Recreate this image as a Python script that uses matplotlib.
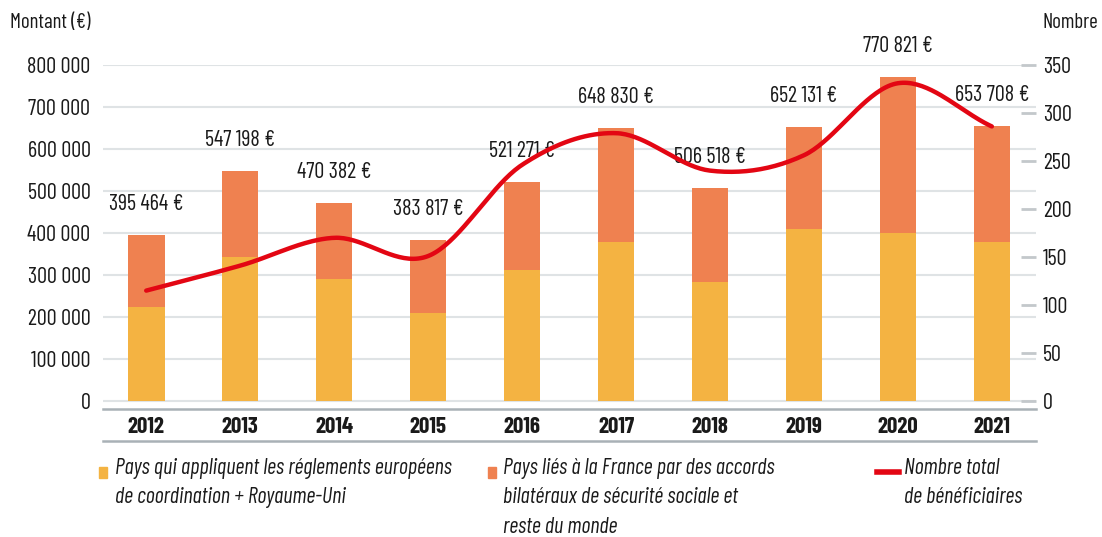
import numpy as np
import matplotlib
matplotlib.use("Agg")
import matplotlib.pyplot as plt
from matplotlib.patches import Rectangle
from matplotlib.lines import Line2D

plt.rcParams['font.family'] = ['Barlow Condensed', 'Roboto Condensed', 'DejaVu Sans']

years = ['2012', '2013', '2014', '2015', '2016', '2017', '2018', '2019', '2020', '2021']
totals = [395464, 547198, 470382, 383817, 521271, 648830, 506518, 652131, 770821, 653708]
eu_part = [225000, 343000, 290000, 210000, 312000, 379000, 283000, 410000, 400000, 379000]
beneficiaires = [115, 141, 170, 151, 246, 279, 240, 256, 331, 286]

total_labels = ['395 464 €', '547 198 €', '470 382 €', '383 817 €', '521 271 €',
                '648 830 €', '506 518 €', '652 131 €', '770 821 €', '653 708 €']

YELLOW = '#F4B342'
ORANGE = '#EF8150'
RED = '#E30613'
GRID = '#dfe3e5'
AXIS = '#a9b1b6'
INK = '#1a1a1a'


def catmull_rom(xs, ys, n=40):
    # smooth line like the office "smoothed line" option
    xs = np.asarray(xs, float)
    ys = np.asarray(ys, float)
    out_x, out_y = [], []
    for i in range(len(xs) - 1):
        i0 = max(i - 1, 0)
        i3 = min(i + 2, len(xs) - 1)
        t = np.linspace(0, 1, n)
        m1 = (ys[i + 1] - ys[i0]) / (xs[i + 1] - xs[i0])
        m2 = (ys[i3] - ys[i]) / (xs[i3] - xs[i])
        h = xs[i + 1] - xs[i]
        h00 = 2 * t**3 - 3 * t**2 + 1
        h10 = t**3 - 2 * t**2 + t
        h01 = -2 * t**3 + 3 * t**2
        h11 = t**3 - t**2
        out_x.append(xs[i] + t * h)
        out_y.append(h00 * ys[i] + h10 * h * m1 + h01 * ys[i + 1] + h11 * h * m2)
    return np.concatenate(out_x), np.concatenate(out_y)


x = np.arange(len(years))
other_part = [t - e for t, e in zip(totals, eu_part)]

fig = plt.figure(figsize=(11.02, 5.37), dpi=100)
ax = fig.add_axes([103 / 1102, 128 / 537, 933 / 1102, 344 / 537])

ymin, ymax = -19000, 800000
ax.set_ylim(ymin, ymax)
ax.set_xlim(-0.46, 9.47)

ax.bar(x, eu_part, width=0.39, color=YELLOW, zorder=2)
ax.bar(x, other_part, bottom=eu_part, width=0.39, color=ORANGE, zorder=2)

for xi, t, lab in zip(x, totals, total_labels):
    ax.annotate(lab, (xi, t), xytext=(0, 22), textcoords='offset points',
                ha='center', va='center', fontsize=16, color=INK)

ax.set_yticks(np.arange(0, 800001, 100000))
ax.set_yticklabels([f'{v:,}'.replace(',', ' ') for v in range(0, 800001, 100000)])
ax.yaxis.grid(True, color=GRID, linewidth=1.5, zorder=0)
ax.set_axisbelow(True)
ax.tick_params(axis='y', length=0, pad=9, labelsize=16, labelcolor=INK)

ax.set_xticks(x)
ax.set_xticklabels(years, fontweight='bold')
ax.tick_params(axis='x', length=0, pad=6, labelsize=16.5, labelcolor=INK)

for side in ['top', 'left', 'right']:
    ax.spines[side].set_visible(False)
ax.spines['bottom'].set_color(AXIS)
ax.spines['bottom'].set_linewidth(1.8)

ax.add_line(Line2D([0, 1], [-0.093, -0.093], transform=ax.transAxes,
                   color=AXIS, linewidth=1.8, clip_on=False))

ax2 = ax.twinx()
ax2.set_ylim(ymin * 350 / 800000, 350)
ax2.set_yticks(np.arange(0, 351, 50))
ax2.tick_params(axis='y', direction='in', length=11, width=2, color='#c3c8cb',
                pad=5, labelsize=16, labelcolor=INK)
for side in ['top', 'left', 'right', 'bottom']:
    ax2.spines[side].set_visible(False)

sx, sy = catmull_rom(x, beneficiaires)
ax2.plot(sx, sy, color=RED, linewidth=3.2, solid_capstyle='round', zorder=3)

fig.text(10 / 1102, 1 - 23 / 537, 'Montant (€)', fontsize=15, va='center', ha='left',
         color=INK)
fig.text(1043 / 1102, 1 - 23 / 537, 'Nombre', fontsize=15, va='center', ha='left',
         color=INK)

# legend
fig.add_artist(Rectangle((99 / 1102, 1 - 478 / 537), 8 / 1102, 11 / 537,
                         transform=fig.transFigure, color=YELLOW))
fig.add_artist(Rectangle((488 / 1102, 1 - 478 / 537), 8 / 1102, 11 / 537,
                         transform=fig.transFigure, color=ORANGE))
fig.add_artist(Line2D([877 / 1102, 899 / 1102], [1 - 472 / 537, 1 - 472 / 537],
                      transform=fig.transFigure, color=RED, linewidth=4))

legend_texts = [
    (115, 'Pays qui appliquent les réglements européens\nde coordination + Royaume-Uni'),
    (503, 'Pays liés à la France par des accords\nbilatéraux de sécurité sociale et\nreste du monde'),
    (904, 'Nombre total\nde bénéficiaires'),
]
for px, txt in legend_texts:
    fig.text(px / 1102, 1 - 458 / 537, txt, fontsize=16, style='italic',
             va='top', ha='left', linespacing=1.52, color=INK)

fig.savefig('out.png', dpi=100)
